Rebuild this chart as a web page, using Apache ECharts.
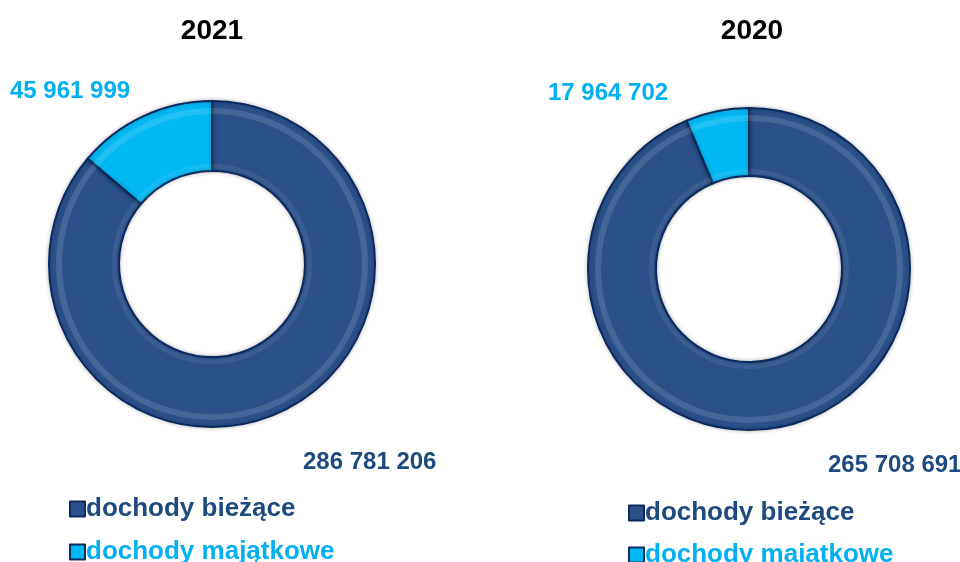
<!DOCTYPE html>
<html>
<head>
<meta charset="utf-8">
<script src="https://cdn.jsdelivr.net/npm/echarts@6/dist/echarts.min.js"></script>
<style>
  html, body { margin: 0; padding: 0; background: #fff; }
  #chart { width: 960px; height: 562px; }
</style>
</head>
<body>
<div id="chart"></div>
<script>
// dane
var categories = ["dochody bieżące", "dochody majątkowe"];
var years = ["2021", "2020"];
var values2021 = [286781206, 45961999];
var values2020 = [265708691, 17964702];

var colors = ["#2A518A", "#00B8F2"];
var labelColors = ["#1F4A80", "#00B0F0"];
var FONT = "Liberation Sans, Arial, sans-serif";

function fmt(v) {
  return String(v).replace(/\B(?=(\d{3})+(?!\d))/g, " ");
}

// label positions for each chart (top-left of text)
var labelPos = [
  [[303, 450], [10, 79]],
  [[828, 453], [548, 81]]
];

function makeSeries(idx, values, center, radius) {
  return {
    type: "pie",
    name: years[idx],
    center: center,
    radius: radius,
    startAngle: 90,
    clockwise: true,
    silent: true,
    data: categories.map(function (name, i) {
      return {
        name: name,
        value: values[i],
        itemStyle: { color: colors[i] },
        label: { color: labelColors[i] }
      };
    }),
    itemStyle: {
      borderColor: "#0C2A5E",
      borderWidth: 2,
      shadowColor: "rgba(0,0,0,0.25)",
      shadowBlur: 4
    },
    label: {
      show: true,
      position: "outside",
      overflow: "none",
      formatter: function (p) { return fmt(p.value); },
      fontFamily: FONT,
      fontWeight: "bold",
      fontSize: 24
    },
    labelLine: { show: false },
    labelLayout: function (p) {
      var pos = labelPos[idx][p.dataIndex];
      return { x: pos[0], y: pos[1], align: "left", verticalAlign: "top" };
    }
  };
}

// decorative bevel rim, same data so the edges follow the slices
function makeRim(idx, values, center, radius, alpha) {
  return {
    type: "pie",
    center: center,
    radius: radius,
    startAngle: 90,
    silent: true,
    legendHoverLink: false,
    label: { show: false },
    labelLine: { show: false },
    data: categories.map(function (name, i) {
      return { name: name, value: values[i], itemStyle: { color: "rgba(255,255,255," + alpha + ")" } };
    }),
    itemStyle: { borderWidth: 0 },
    z: 3
  };
}

function makeLegend(left, top, gap) {
  return {
    orient: "vertical",
    left: left,
    top: top,
    height: 80,
    itemGap: gap,
    itemWidth: 15,
    itemHeight: 15,
    icon: "rect",
    selectedMode: false,
    itemStyle: { borderColor: "#0C2A5E", borderWidth: 2 },
    textStyle: {
      fontFamily: FONT,
      fontWeight: "bold",
      fontSize: 26,
      lineHeight: 22,
      padding: [0, 0, 0, -4]
    },
    data: categories.map(function (name, i) {
      return {
        name: name,
        itemStyle: { color: colors[i] },
        textStyle: { color: labelColors[i] }
      };
    })
  };
}

var chart = echarts.init(document.getElementById("chart"));
chart.setOption({
  animation: false,
  title: [
    {
      text: years[0], left: 207, top: 12, textAlign: "center",
      textStyle: { fontFamily: FONT, fontWeight: "bold", fontSize: 28, color: "#000" }
    },
    {
      text: years[1], left: 747, top: 12, textAlign: "center",
      textStyle: { fontFamily: FONT, fontWeight: "bold", fontSize: 28, color: "#000" }
    }
  ],
  legend: [makeLegend(64, 491, 17), makeLegend(623, 495, 16)],
  series: [
    makeSeries(0, values2021, [212, 264], [93, 163]),
    makeSeries(1, values2020, [749, 269], [93, 161]),
    makeRim(0, values2021, [212, 264], [150, 156], 0.12),
    makeRim(1, values2020, [749, 269], [148, 154], 0.12),
    makeRim(0, values2021, [212, 264], [95, 100], 0.08),
    makeRim(1, values2020, [749, 269], [95, 100], 0.08)
  ]
});
</script>
</body>
</html>
